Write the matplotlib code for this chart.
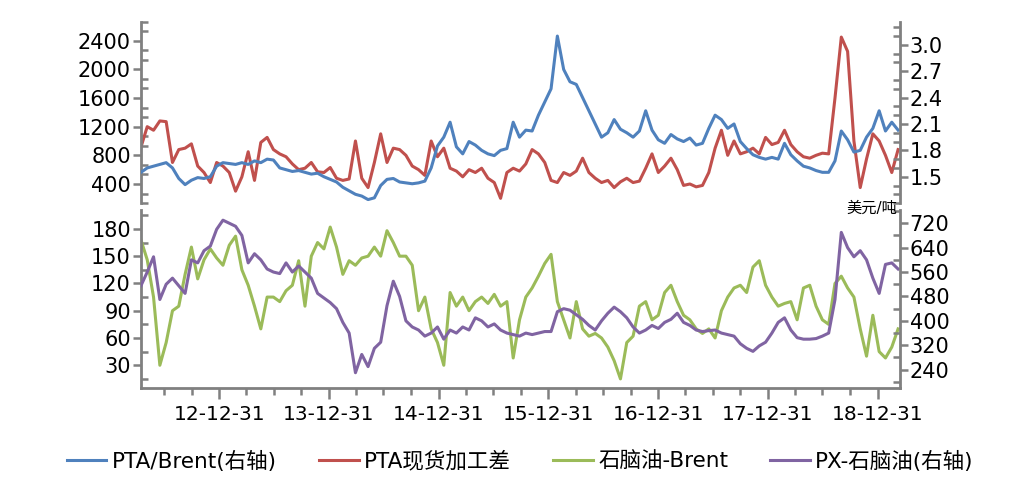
import pandas as pd
import matplotlib
matplotlib.use("Agg")
import matplotlib.pyplot as plt
import matplotlib.dates as mdates
from matplotlib.ticker import MultipleLocator

plt.rcParams['font.family'] = ['DejaVu Sans', 'Noto Sans CJK SC']

# one reading every three weeks
dates = pd.date_range("2012-04-14", periods=121, freq="21D")

# PTA/Brent (right axis, top)
pta_brent = [
    1.55, 1.60, 1.62, 1.64, 1.66, 1.60, 1.48, 1.41, 1.46, 1.49,
    1.48, 1.50, 1.62, 1.66, 1.65, 1.64, 1.66, 1.64, 1.68, 1.66,
    1.70, 1.69, 1.60, 1.58, 1.56, 1.57, 1.55, 1.53, 1.54, 1.50,
    1.47, 1.44, 1.38, 1.34, 1.30, 1.28, 1.24, 1.26, 1.40, 1.47,
    1.48, 1.44, 1.43, 1.42, 1.43, 1.45, 1.60, 1.85, 1.95, 2.12,
    1.84, 1.76, 1.90, 1.86, 1.80, 1.76, 1.74, 1.80, 1.82, 2.12,
    1.95, 2.03, 2.02, 2.20, 2.35, 2.50, 3.10, 2.72, 2.58, 2.55,
    2.40, 2.25, 2.10, 1.95, 2.00, 2.15, 2.04, 2.00, 1.95, 2.02,
    2.25, 2.03, 1.92, 1.88, 1.98, 1.93, 1.90, 1.94, 1.86, 1.88,
    2.05, 2.20, 2.15, 2.05, 2.10, 1.90, 1.82, 1.75, 1.72, 1.70,
    1.72, 1.70, 1.88, 1.75, 1.68, 1.62, 1.60, 1.57, 1.55, 1.55,
    1.68, 2.02, 1.92, 1.78, 1.80, 1.95, 2.05, 2.25, 2.02, 2.12,
    2.03,
]

# PTA现货加工差 (left axis, top)
pta_margin = [
    912, 1200, 1150, 1280, 1270, 700, 880, 900, 960, 650,
    560, 420, 700, 650, 560, 300, 500, 850, 450, 980,
    1050, 880, 820, 780, 680, 600, 620, 700, 570, 560,
    630, 480, 450, 470, 1000, 480, 350, 700, 1100, 700,
    900, 880, 800, 650, 600, 520, 1000, 780, 900, 620,
    580, 500, 600, 560, 620, 480, 420, 200, 560, 620,
    580, 680, 880, 820, 700, 450, 420, 560, 520, 580,
    760, 560, 480, 420, 450, 350, 430, 480, 420, 440,
    620, 820, 560, 650, 760, 600, 380, 400, 360, 380,
    560, 900, 1150, 800, 1000, 820, 850, 900, 820, 1050,
    950, 980, 1150, 950, 850, 780, 760, 800, 830, 820,
    1600, 2450, 2250, 1000, 350, 750, 1100, 1000, 800, 560,
    880,
]

# 石脑油-Brent (left axis, bottom)
naphtha_brent = [
    168, 146, 105, 30, 55, 90, 95, 130, 160, 125,
    146, 158, 148, 140, 162, 172, 135, 118, 95, 70,
    105, 105, 100, 112, 118, 145, 95, 150, 165, 158,
    182, 160, 130, 145, 140, 148, 150, 160, 150, 178,
    165, 150, 150, 140, 90, 105, 70, 55, 30, 110,
    95, 105, 90, 100, 105, 98, 108, 95, 100, 38,
    80, 105, 115, 128, 142, 152, 100, 80, 60, 100,
    70, 62, 65, 60, 50, 35, 15, 55, 62, 95,
    100, 80, 85, 110, 118, 100, 85, 80, 70, 65,
    70, 60, 90, 105, 115, 118, 110, 138, 145, 118,
    105, 95, 98, 100, 80, 115, 118, 95, 80, 75,
    120, 128, 115, 105, 70, 40, 85, 45, 38, 50,
    70,
]

# PX-石脑油 (right axis, bottom)
px_naphtha = [
    515, 560, 610, 470, 520, 540, 515, 490, 600, 590,
    630, 645, 700, 730, 720, 710, 680, 590, 620, 600,
    570, 560, 555, 590, 560, 580, 560, 540, 490, 475,
    460, 440, 395, 360, 230, 290, 250, 310, 330, 450,
    530, 480, 400, 380, 370, 350, 360, 380, 340, 370,
    360, 380, 370, 410, 400, 380, 390, 370, 360, 355,
    350, 360, 355, 360, 365, 365, 430, 440, 435, 420,
    405, 385, 370, 400, 425, 445, 430, 410, 380, 360,
    370, 385, 375, 395, 405, 425, 395, 385, 370, 365,
    368, 370, 360, 355, 350, 325, 310, 300, 318, 330,
    360, 395, 410, 370, 345, 340, 340, 342, 350, 360,
    470, 690, 640, 610, 630, 600, 540, 490, 585, 590,
    570,
]

blue = "#4F81BD"
red = "#C0504D"
green = "#9BBB59"
purple = "#8064A2"
grey = "#808080"

fig = plt.figure(figsize=(10.34, 4.79), dpi=100)
ax1 = fig.add_axes([0.136, 0.576, 0.7343, 0.379])
ax2 = fig.add_axes([0.136, 0.19, 0.7343, 0.372], sharex=ax1)
ax1r = ax1.twinx()
ax2r = ax2.twinx()

l_red, = ax1.plot(dates, pta_margin, color=red, lw=2.2)
l_blue, = ax1r.plot(dates, pta_brent, color=blue, lw=2.2)
l_green, = ax2.plot(dates, naphtha_brent, color=green, lw=2.2)
l_purple, = ax2r.plot(dates, px_naphtha, color=purple, lw=2.2)

ax1.set_ylim(400 / 3, 8000 / 3)
ax1.set_yticks([400, 800, 1200, 1600, 2000, 2400])
ax1.yaxis.set_minor_locator(MultipleLocator(400 / 3))
ax1r.set_ylim(1.2, 3.265)
ax1r.set_yticks([1.5, 1.8, 2.1, 2.4, 2.7, 3.0])
ax1r.set_yticklabels(["1.5", "1.8", "2.1", "2.4", "2.7", "3.0"])
ax1r.yaxis.set_minor_locator(MultipleLocator(0.1))

ax2.set_ylim(5, 201)
ax2.set_yticks([30, 60, 90, 120, 150, 180])
ax2.yaxis.set_minor_locator(MultipleLocator(15))
ax2r.set_ylim(180, 764)
ax2r.set_yticks([240, 320, 400, 480, 560, 640, 720])
ax2r.yaxis.set_minor_locator(MultipleLocator(40))

ax2.set_xlim(pd.Timestamp("2012-04-13"), pd.Timestamp("2019-03-15"))
ax2.xaxis.set_major_locator(mdates.YearLocator(base=1, month=12, day=31))
ax2.xaxis.set_minor_locator(mdates.MonthLocator(bymonth=[3, 6, 9, 12], bymonthday=-1))
ax2.xaxis.set_major_formatter(mdates.DateFormatter("%y-%m-%d"))

for ax in (ax1, ax2, ax1r, ax2r):
    for s in ax.spines.values():
        s.set_visible(False)
        s.set_color(grey)
        s.set_linewidth(2)
ax1.spines["left"].set_visible(True)
ax2.spines["left"].set_visible(True)
ax2.spines["bottom"].set_visible(True)
ax1r.spines["right"].set_visible(True)
ax2r.spines["right"].set_visible(True)

for ax in (ax1, ax2, ax1r, ax2r):
    ax.tick_params(axis="y", which="major", direction="out", length=6,
                   width=1.8, color=grey, labelsize=15, pad=1)
    ax.tick_params(axis="y", which="minor", direction="in", length=5,
                   width=1.8, color=grey)
ax1.tick_params(axis="x", which="both", bottom=False, labelbottom=False)
ax2.tick_params(axis="x", which="major", direction="out", length=8,
                width=1.8, color=grey, labelsize=14.5, pad=4)
ax2.tick_params(axis="x", which="minor", direction="out", length=5,
                width=1.8, color=grey)

fig.text(0.868, 0.566, "美元/吨", ha="right", va="center", fontsize=11)

fig.legend([l_blue, l_red, l_green, l_purple],
           ["PTA/Brent(右轴)", "PTA现货加工差", "石脑油-Brent", "PX-石脑油(右轴)"],
           loc="center", bbox_to_anchor=(0.503, 0.037), ncol=4, frameon=False,
           fontsize=15.5, handlelength=1.85, handletextpad=0.25,
           columnspacing=1.95)

fig.savefig("out.png", dpi=100)
